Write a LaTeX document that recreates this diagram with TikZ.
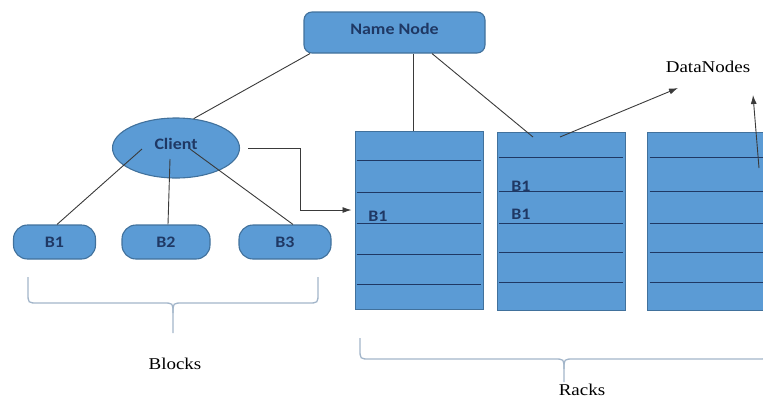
\documentclass[tikz,border=0pt]{standalone}
\usepackage{fontspec}
\setmainfont[FakeStretch=1.15]{Liberation Serif}
\newfontfamily\nodefont[FakeStretch=1.12]{Carlito}
\usetikzlibrary{arrows.meta,shapes.geometric}

\definecolor{boxblue}{HTML}{5B9BD5}
\definecolor{boxedge}{HTML}{41719C}
\definecolor{navy}{HTML}{1F3864}
\definecolor{bracegray}{HTML}{A3B6CA}
\definecolor{wiregray}{HTML}{3A3A3A}

\tikzset{
  box/.style={draw=boxedge, fill=boxblue, line width=1.1pt, text=navy, font=\nodefont\bfseries\fontsize{16}{19}\selectfont},
  block/.style={box, rounded corners=14pt, minimum height=34pt},
  rack/.style={draw=boxedge, fill=boxblue, line width=1pt, minimum width=128pt, minimum height=178pt},
  shelf/.style={draw=navy, line width=1pt},
  slot/.style={text=navy, inner sep=0pt, font=\nodefont\bfseries\fontsize{16}{19}\selectfont},
  wire/.style={draw=wiregray, line width=0.9pt},
  brace/.style={draw=bracegray, line width=1.3pt},
  caption/.style={font=\fontsize{16.5}{19}\selectfont}
}

\begin{document}
\begin{tikzpicture}[x=1pt, y=-1pt, >={Latex[length=9pt,width=6pt]}]
\clip (0,0) rectangle (763,400);
% Name node and client
\node[box, rounded corners=8pt, minimum width=181pt, minimum height=41pt, text depth=8pt] (namenode) at (394.5,32.5) {Name Node};
\node[box, ellipse, minimum width=127pt, minimum height=60pt, text depth=8pt] (client) at (176,148) {Client};
% Blocks
\node[block, minimum width=82pt] (b1) at (54.5,242) {B1};
\node[block, minimum width=88pt] (b2) at (166,242) {B2};
\node[block, minimum width=92pt] (b3) at (285,242) {B3};
% Racks
\node[rack] (rack1) at (419,220) {};
\node[rack] (rack2) at (561,221.5) {};
\node[rack] (rack3) at (711,221.5) {};
\foreach \y in {160,192,223,254,284}
  \draw[shelf] ([xshift=2pt]rack1.west |- 0,\y) -- ([xshift=-3pt]rack1.east |- 0,\y);
\foreach \y in {157,191,223,252,282} {
  \draw[shelf] ([xshift=2pt]rack2.west |- 0,\y) -- ([xshift=-3pt]rack2.east |- 0,\y);
  \draw[shelf] ([xshift=3pt]rack3.west |- 0,\y) -- ([xshift=-3pt]rack3.east |- 0,\y);
}
\node[slot] (r1b1) at (378,216) {B1};
\node[slot] (r2b1) at (521,186) {B1};
\node[slot] (r2b2) at (521,214) {B1};
% Captions
\node[caption] (dn) at (708,67) {DataNodes};
\node[caption] (blocks) at (175,364) {Blocks};
\node[caption] (racks) at (582,390) {Racks};
% Connectors
\draw[wire] (namenode.194.5) -- (client.59);
\draw[wire] ([xshift=18.5pt]namenode.south) -- ([xshift=-6pt]rack1.north);
\draw[wire] ([xshift=37.5pt]namenode.south) -- ([shift={(-28pt,-5pt)}]rack2.north);
\draw[wire] ([shift={(-34,1)}]client.center) -- ([xshift=2.5pt]b1.north);
\draw[wire] ([shift={(-6,11)}]client.center) -- ([xshift=2pt]b2.north);
\draw[wire] ([shift={(14,1)}]client.center) -- ([xshift=8pt]b3.north);
\draw[wire, ->] ([xshift=8pt]client.east) -- ++(52,0) |- ([shift={(-3pt,10pt)}]rack1.west);
\draw[wire, ->] ([shift={(-1pt,-5pt)}]rack2.north) -- ([shift={(-30,21)}]dn.center);
\draw[wire, ->] ([shift={(48pt,-36pt)}]rack3.north) -- ([shift={(45,28)}]dn.center);
% Braces
\draw[brace] (28,277) -- (28,293) .. controls (28,303) .. (38,303) -- (163,303) .. controls (173,303) .. (173,313) -- (173,333);
\draw[brace] (318,277) -- (318,293) .. controls (318,303) .. (308,303) -- (183,303) .. controls (173,303) .. (173,313);
\draw[brace] (360,338) -- (360,349) .. controls (360,359) .. (370,359) -- (554,359) .. controls (564,359) .. (564,369) -- (564,382);
\draw[brace] (768,338) -- (768,349) .. controls (768,359) .. (758,359) -- (574,359) .. controls (564,359) .. (564,369);
\end{tikzpicture}
\end{document}
